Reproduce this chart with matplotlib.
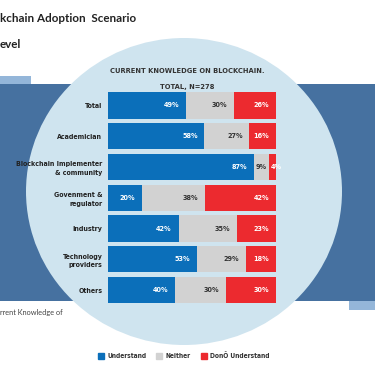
import matplotlib.pyplot as plt
from matplotlib.patches import Rectangle, Ellipse
from matplotlib.lines import Line2D

categories = ["Total", "Academician", "Blockchain Implementer\n& community",
              "Govenment &\nregulator", "Industry", "Technology\nproviders", "Others"]
understand = [49, 58, 87, 20, 42, 53, 40]
neither = [30, 27, 9, 38, 35, 29, 30]
dont = [26, 16, 4, 42, 23, 18, 30]
series_names = ["Understand", "Neither", "DonÕ Understand"]
colors = ["#0b6fba", "#d2d2d2", "#ec2a2f"]
label_colors = ["white", "#333333", "white"]

narrow = "DejaVu Sans"
st = "condensed"

fig = plt.figure(figsize=(3.75, 3.66), dpi=100)

# background decoration in pixel coordinates
bg = fig.add_axes([0, 0, 1, 1])
bg.set_xlim(0, 375)
bg.set_ylim(366, 0)
bg.axis("off")
bg.add_patch(Rectangle((0, 84), 375, 217, color="#4671a0", lw=0))
bg.add_patch(Rectangle((0, 76), 31, 8, color="#94b6d9", lw=0))
bg.add_patch(Rectangle((349, 301), 26, 9, color="#94b6d9", lw=0))
bg.add_patch(Ellipse((184, 191.5), 316, 307, color="#cfe4ef", lw=0))

bg.text(0, 18, "kchain Adoption  Scenario", fontsize=8.4, fontweight="bold",
        family="Lato", color="#222222", va="center", ha="left")
bg.text(0, 44, "evel", fontsize=8.4, fontweight="bold",
        family="Lato", color="#222222", va="center", ha="left")
bg.text(0, 313, "rrent Knowledge of", fontsize=5.3, family="Lato",
        color="#444444", va="center", ha="left")

bg.text(187, 71, "CURRENT KNOWLEDGE ON BLOCKCHAIN.", fontsize=5.4, fontweight="bold",
        family=narrow, stretch=st, color="#333333", ha="center", va="center")
bg.text(187, 87, "TOTAL, N=278", fontsize=5.4, fontweight="bold",
        family=narrow, stretch=st, color="#333333", ha="center", va="center")

# stacked bars
ax = fig.add_axes([108 / 375, 1 - 305.4 / 366, 168 / 375, (305.4 - 90.1) / 366])
ax.set_facecolor("none")
rows = list(zip(understand, neither, dont))
ypos = list(range(len(categories)))
for j, name in enumerate(series_names):
    left = []
    width = []
    for r in rows:
        tot = sum(r)
        left.append(sum(r[:j]) / tot * 100)
        width.append(r[j] / tot * 100)
    ax.barh(ypos, width, left=left, height=0.85, color=colors[j], lw=0)
    for i in ypos:
        txt = f"{rows[i][j]}%"
        if width[i] < 10:
            ax.text(left[i] + 0.8, i, txt, ha="left", va="center", fontsize=5.2,
                    fontweight="bold", family=narrow, stretch=st, color=label_colors[j])
        else:
            ax.text(left[i] + width[i] - 4, i, txt, ha="right", va="center", fontsize=5.2,
                    fontweight="bold", family=narrow, stretch=st, color=label_colors[j])

ax.set_xlim(0, 100)
ax.set_ylim(6.5, -0.5)
ax.set_xticks([])
ax.set_yticks(ypos)
ax.set_yticklabels(categories, fontsize=5.0, fontweight="bold", family=narrow,
                   stretch=st, color="#222222", linespacing=1.5)
ax.tick_params(axis="y", length=0, pad=4)
for s in ax.spines.values():
    s.set_visible(False)

handles = [Line2D([], [], marker="s", ls="", markersize=5, color=c) for c in colors]
fig.legend(handles, series_names, loc="center", bbox_to_anchor=(184 / 375, 1 - 356 / 366),
           ncol=3, frameon=False, handlelength=0.8, handletextpad=0.6, columnspacing=1.5,
           prop={"family": narrow, "weight": "bold", "size": 4.8, "stretch": st},
           labelcolor="#333333")

fig.savefig("out.png", dpi=100)
